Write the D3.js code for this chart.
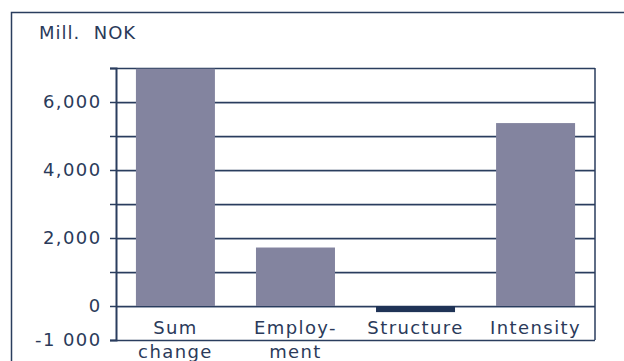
<!DOCTYPE html>
<html><head><meta charset="utf-8">
<script src="https://cdn.jsdelivr.net/npm/d3@7"></script>
<style>
html,body{margin:0;padding:0;background:#fff;}
svg text{font-family:"DejaVu Sans",sans-serif;fill:#2b3a5a;}
</style></head>
<body>
<svg id="c" width="624" height="361"></svg>
<script>
const categories = ["Sum change", "Employ-ment", "Structure", "Intensity"];
const categoryLines = [["Sum","change"],["Employ-","ment"],["Structure"],["Intensity"]];
const values = [6980, 1720, -180, 5380];
const tickValues = [-1000, 0, 1000, 2000, 3000, 4000, 5000, 6000, 7000];
const tickLabels = {"-1000":"-1 000","0":"0","2000":"2,000","4000":"4,000","6000":"6,000"};
const unitLabel = "Mill.  NOK";

const svg = d3.select("#c");
const L = 116, R = 595, T = 68, B = 340;
const axisColor = "#2a3d5e";
const FS = "18px", LS = "1.4px";

// outer frame
svg.append("path").attr("d","M11.5,400 V12.5 H630").attr("fill","none").attr("stroke",axisColor).attr("stroke-width",1.5);

const y = d3.scaleLinear().domain([-1000,7000]).range([B,T]);
const x = d3.scaleBand().domain(categories).range([L,R]).paddingInner(0.342).paddingOuter(0.166);

// gridlines
svg.append("g").selectAll("line.sh").data(tickValues.filter(v=>v>-1000 && v<7000)).join("line")
  .attr("x1",L).attr("x2",R).attr("y1",d=>Math.round(y(d))+1.5).attr("y2",d=>Math.round(y(d))+1.5)
  .attr("stroke","#c3c9d3").attr("stroke-width",1);
svg.append("g").selectAll("line.g").data(tickValues).join("line")
  .attr("x1",L).attr("x2",R).attr("y1",d=>Math.round(y(d))+0.5).attr("y2",d=>Math.round(y(d))+0.5)
  .attr("stroke",axisColor).attr("stroke-width",1.3);

// bars
svg.append("g").selectAll("rect").data(values).join("rect")
  .attr("x",(d,i)=>x(categories[i]))
  .attr("width",x.bandwidth())
  .attr("y",d=>y(Math.max(0,d)))
  .attr("height",d=>Math.abs(y(d)-y(0)))
  .attr("fill",d=>d<0?"#1f3356":"#83849f");

// axis
const ax = svg.append("g").attr("transform",`translate(${L},0)`)
  .call(d3.axisLeft(y).tickValues(tickValues).tickSize(6).tickFormat(d=>tickLabels[String(d)]||""));
ax.select(".domain").attr("stroke",axisColor).attr("stroke-width",2);
ax.selectAll(".tick line").attr("stroke",axisColor).attr("stroke-width",1.5);
ax.selectAll(".tick text").attr("x",-14.5).attr("dy","0.3em").style("font-size",FS).style("letter-spacing",LS).attr("fill","#2b3a5a");

// right border of plot
svg.append("line").attr("x1",R).attr("x2",R).attr("y1",T).attr("y2",B).attr("stroke",axisColor).attr("stroke-width",1.5);

// category labels
const cl = svg.append("g").selectAll("text").data(categoryLines).join("text")
  .attr("x",(d,i)=>x(categories[i])+x.bandwidth()/2)
  .attr("y",334)
  .attr("text-anchor","middle")
  .style("font-size",FS).style("letter-spacing",LS);
cl.selectAll("tspan").data(d=>d).join("tspan")
  .attr("x",function(){return this.parentNode.getAttribute("x");})
  .attr("dy",(d,i)=>i===0?0:24)
  .text(d=>d);

svg.append("text").attr("x",39).attr("y",39).style("font-size",FS).style("letter-spacing","1px").style("white-space","pre").text(unitLabel);
</script>
</body></html>
